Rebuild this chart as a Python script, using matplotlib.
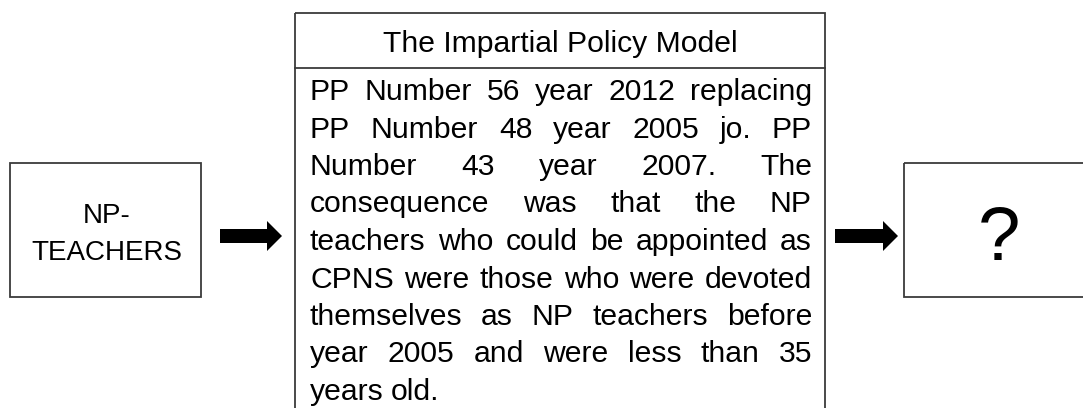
import matplotlib
matplotlib.use("Agg")
import matplotlib.pyplot as plt
from matplotlib.patches import Rectangle, FancyArrow

# textos del diagrama
left_label = ["NP-", "TEACHERS"]
title_label = "The Impartial Policy Model"
body_lines = [
    "PP Number 56 year 2012 replacing",
    "PP Number 48 year 2005 jo. PP",
    "Number 43 year 2007. The",
    "consequence was that the NP",
    "teachers who could be appointed as",
    "CPNS were those who were devoted",
    "themselves as NP teachers before",
    "year 2005 and were less than 35",
    "years old.",
]
right_label = "?"

fuente = ["Liberation Sans", "DejaVu Sans"]
borde = "#3a3a3a"

fig = plt.figure(figsize=(10.83, 4.08), dpi=100)
ax = fig.add_axes([0, 0, 1, 1])
ax.set_xlim(0, 1083)
ax.set_ylim(408, 0)
ax.axis("off")

# cajas
ax.add_patch(Rectangle((10, 163), 191, 134, fill=False, ec=borde, lw=1.3))
ax.add_patch(Rectangle((295, 13), 530, 420, fill=False, ec=borde, lw=1.3))
ax.plot([295, 825], [68, 68], color=borde, lw=1.3)
ax.add_patch(Rectangle((904, 163), 190, 134, fill=False, ec=borde, lw=1.3, clip_on=False))

# flechas
for x0, x1 in [(220, 282), (835, 898)]:
    ax.add_patch(FancyArrow(x0, 236, x1 - x0, 0, width=14, head_width=30,
                            head_length=15, length_includes_head=True,
                            color="black", lw=0))

# caja izquierda
for i, t in enumerate(left_label):
    ax.text(107, 223 + i * 37, t, ha="center", va="baseline",
            fontsize=20, family=fuente)

# titulo
ax.text(560, 52, title_label, ha="center", va="baseline", fontsize=21.7, family=fuente)

# signo de pregunta
ax.text(999, 260, right_label, ha="center", va="baseline", fontsize=55, family=fuente)

# texto justificado
x_izq, x_der = 310, 812
renderer = fig.canvas.get_renderer()
for i, linea in enumerate(body_lines):
    y = 100 + i * 37.5
    palabras = linea.split()
    objs = [ax.text(0, y, w, ha="left", va="baseline", fontsize=21.7, family=fuente)
            for w in palabras]
    anchos = [o.get_window_extent(renderer).width for o in objs]
    if i < len(body_lines) - 1 and len(palabras) > 1:
        hueco = (x_der - x_izq - sum(anchos)) / (len(palabras) - 1)
    else:
        hueco = 7.5
    x = x_izq
    for o, a in zip(objs, anchos):
        o.set_x(x)
        x += a + hueco

fig.savefig("out.png", dpi=100)
